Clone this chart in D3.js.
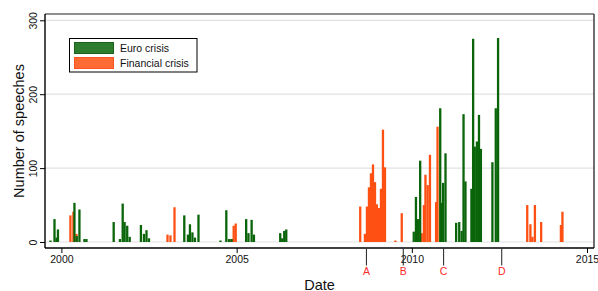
<!DOCTYPE html>
<html><head><meta charset="utf-8">
<script src="https://cdn.jsdelivr.net/npm/d3@7"></script>
<style>body{margin:0;background:#fff}svg{display:block;font-family:"Liberation Sans",Arial,Helvetica,sans-serif}</style>
</head><body><svg id="c" width="598" height="291"></svg>
<script>
// ---- data ----
const euroDates = ["1999-09-09","1999-10-21","1999-11-11","1999-11-26","2000-05-16","2000-06-09","2000-07-07","2000-08-28","2000-09-18",
  "2001-06-29","2001-09-02","2001-10-01","2001-10-21","2001-11-17","2001-12-13",
  "2002-04-09","2002-05-11","2002-06-06","2002-07-02",
  "2003-07-05","2003-08-12","2003-09-02","2003-09-28","2003-10-24","2003-11-30",
  "2004-07-16","2004-09-15","2004-10-13","2004-11-08",
  "2005-04-10","2005-05-04","2005-06-06","2005-06-30",
  "2006-03-31","2006-04-21","2006-05-12","2006-06-02",
  "2010-01-21","2010-02-13","2010-03-06","2010-03-29",
  "2010-10-24","2010-11-06","2010-11-23","2010-12-18",
  "2011-04-08","2011-05-10","2011-06-04","2011-06-24","2011-07-14",
  "2011-09-14","2011-10-02","2011-10-19","2011-11-11","2011-12-02","2011-12-22",
  "2012-04-20","2012-05-25","2012-06-18"];
const euroValues = [2,31,6,17,53,8,44,4,4,
  27,4,52,27,22,7,
  23,11,16,5,
  36,10,24,13,6,37,
  2,43,4,4,
  31,12,30,10,
  12,5,15,17,
  14,61,31,110,
  181,53,80,120,
  26,27,15,173,82,
  72,275,129,136,172,126,
  108,181,276];

const finDates = ["2000-04-04","2000-05-05","2000-06-06",
  "2003-01-11","2003-02-11","2003-03-25",
  "2004-10-18","2004-11-13","2004-12-01","2004-12-22",
  "2008-07-12","2008-08-30","2008-09-20","2008-10-11","2008-11-01","2008-11-22","2008-12-13",
  "2009-01-02","2009-01-23","2009-02-13","2009-03-06","2009-03-27",
  "2009-07-14","2009-09-18",
  "2010-04-14","2010-05-07","2010-05-23","2010-06-15","2010-07-09","2010-09-11","2010-09-26",
  "2013-04-18","2013-05-21","2013-06-11","2013-07-07","2013-09-10",
  "2014-04-04","2014-04-20"];
const finValues = [36,41,11,
  10,9,47,
  3,4,22,25,
  48,11,48,74,93,105,81,
  51,46,72,152,101,
  2,39,
  12,50,91,77,118,54,156,
  50,24,7,50,27,
  23,41];

const yTicks = [0,100,200,300];
const xTickYears = [2000,2005,2010,2015];
const eventDates = ["2008-09-15","2009-10-04","2010-11-28","2012-07-26"];
const eventLabels = ["A","B","C","D"];
const legendLabels = ["Euro crisis","Financial crisis"];
const yTitle = "Number of speeches";
const xTitle = "Date";

// ---- chart ----
const svg = d3.select("#c");
const L = 45, R = 594, T = 14, B = 248;
const parse = d3.utcParse("%Y-%m-%d");
const x = d3.scaleUtc().domain([new Date(Date.UTC(2000,0,1)), new Date(Date.UTC(2015,0,1))]).range([61.4, 587]);
const y = d3.scaleLinear().domain([0,300]).range([242, 20.3]);

svg.append("rect").attr("width",598).attr("height",291).attr("fill","#fff");

// gridlines
svg.append("g").selectAll("line").data(yTicks).join("line")
  .attr("x1",L).attr("x2",R).attr("y1",d=>y(d)).attr("y2",d=>y(d))
  .attr("stroke","#e2e2e2").attr("stroke-width",1.2);

const DAY = 86400000;
function bars(dates, values, fill, cls){
  const data = dates.map((d,i)=>({d:parse(d), v:values[i]}));
  svg.append("g").attr("class",cls).selectAll("rect").data(data).join("rect")
    .attr("x", p => x(new Date(+p.d - 12*DAY)))
    .attr("width", p => x(new Date(+p.d + 12*DAY)) - x(new Date(+p.d - 12*DAY)))
    .attr("y", p => y(p.v))
    .attr("height", p => y(0) - y(p.v))
    .attr("fill", fill);
}
bars(finDates, finValues, "#ff5014", "fin");
bars(euroDates, euroValues, "#0a650a", "euro");

// frame
svg.append("line").attr("x1",L).attr("x2",R).attr("y1",T).attr("y2",T).attr("stroke","#6a6a6a").attr("stroke-width",1.6);
svg.append("line").attr("x1",R).attr("x2",R).attr("y1",T).attr("y2",B).attr("stroke","#333").attr("stroke-width",1.4);
svg.append("line").attr("x1",L).attr("x2",R).attr("y1",B).attr("y2",B).attr("stroke","#000").attr("stroke-width",1.4);
svg.append("line").attr("x1",L).attr("x2",L).attr("y1",T).attr("y2",B).attr("stroke","#000").attr("stroke-width",1.4);

// y axis
const ya = svg.append("g").attr("transform",`translate(${L},0)`)
  .call(d3.axisLeft(y).tickValues(yTicks).tickSize(5).tickFormat(d3.format("d")));
ya.select(".domain").remove();
ya.selectAll("line").attr("stroke","#000");
ya.selectAll("text").attr("x",null).attr("dy",null)
  .attr("transform","translate(-8.5,0) rotate(-90)")
  .attr("text-anchor","middle").attr("font-size","10.5px").attr("fill","#111")
  .style("font-family","'Liberation Sans',Arial,sans-serif");

// x axis
const xa = svg.append("g").attr("transform",`translate(0,${B})`)
  .call(d3.axisBottom(x).tickValues(xTickYears.map(yr=>new Date(Date.UTC(yr,0,1)))).tickSize(5).tickFormat(d3.utcFormat("%Y")));
xa.select(".domain").remove();
xa.selectAll("line").attr("stroke","#000");
xa.selectAll("text").attr("y",null).attr("dy",null).attr("transform","translate(0,15)")
  .attr("font-size","10.5px").attr("fill","#111")
  .style("font-family","'Liberation Sans',Arial,sans-serif");

// event markers
const ev = svg.append("g").selectAll("g").data(eventDates.map((d,i)=>({d:parse(d), l:eventLabels[i]}))).join("g")
  .attr("transform", p => `translate(${x(p.d)},0)`);
ev.append("line").attr("y1",B).attr("y2",265.5).attr("stroke","#333").attr("stroke-width",1.1);
ev.append("text").attr("y",275).attr("text-anchor","middle").attr("font-size","10.5px")
  .attr("fill","#ff2a2a").text(p=>p.l);

// titles
svg.append("text").attr("transform","translate(23.5,131) rotate(-90)").attr("text-anchor","middle")
  .attr("font-size","14.5px").attr("fill","#111").text(yTitle);
svg.append("text").attr("x",319.5).attr("y",289.5).attr("text-anchor","middle")
  .attr("font-size","14.5px").attr("fill","#111").text(xTitle);

// legend
const lg = svg.append("g");
lg.append("rect").attr("x",69.5).attr("y",38.5).attr("width",127.5).attr("height",33.5)
  .attr("fill","#fff").attr("stroke","#000").attr("stroke-width",1);
const swFill = ["#2e7d2e","#ff6a35"], swStroke = ["#1c641c","#ff5520"];
legendLabels.forEach((t,i)=>{
  lg.append("rect").attr("x",74.5).attr("y",42.5+i*15).attr("width",39).attr("height",11)
    .attr("fill",swFill[i]).attr("stroke",swStroke[i]).attr("stroke-width",1);
  lg.append("text").attr("x",120).attr("y",52+i*15).attr("font-size","10.5px").attr("fill","#111").text(t);
});
</script></body></html>
